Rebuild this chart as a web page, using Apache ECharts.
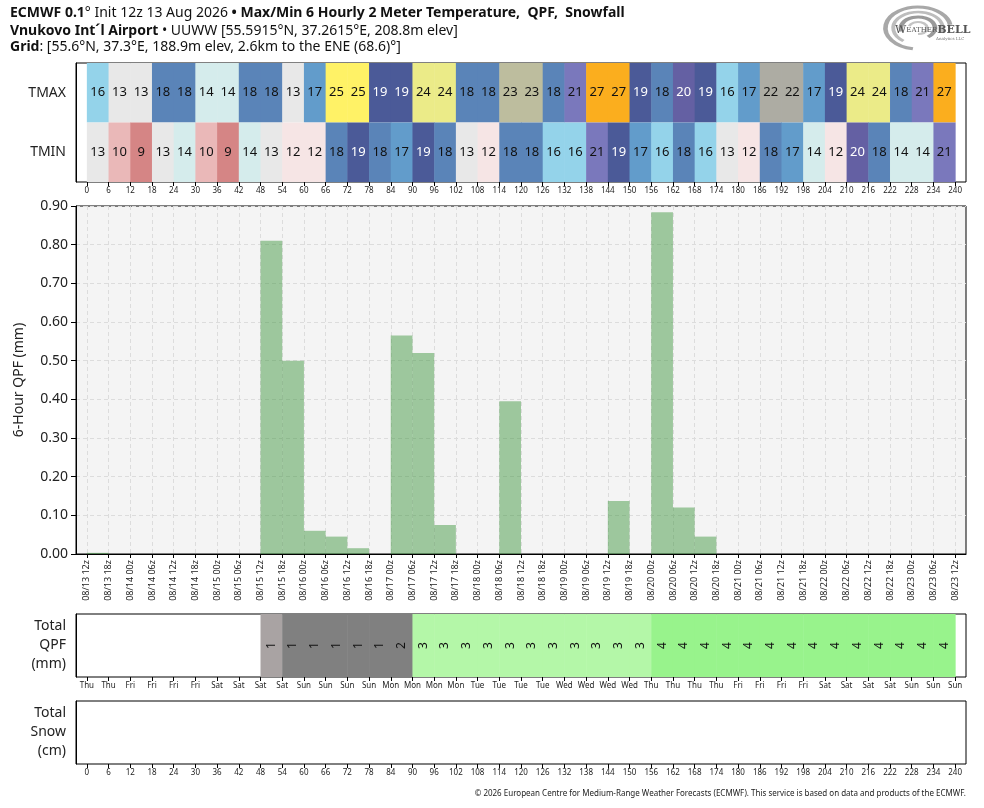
<!DOCTYPE html>
<html>
<head>
<meta charset="utf-8">
<script src="https://cdn.jsdelivr.net/npm/echarts@6/dist/echarts.min.js"></script>
<style>
html, body { margin: 0; padding: 0; background: #fff; }
#main { width: 984px; height: 808px; }
</style>
</head>
<body>
<div id="main"></div>
<script>
// forecast hours, one per 6h step
var hourTicks = [0, 6, 12, 18, 24, 30, 36, 42, 48, 54, 60, 66, 72, 78, 84, 90, 96, 102, 108, 114, 120,
  126, 132, 138, 144, 150, 156, 162, 168, 174, 180, 186, 192, 198, 204, 210, 216, 222, 228, 234, 240];

var timeLabels = ['08/13 12z', '08/13 18z', '08/14 00z', '08/14 06z', '08/14 12z', '08/14 18z',
  '08/15 00z', '08/15 06z', '08/15 12z', '08/15 18z', '08/16 00z', '08/16 06z', '08/16 12z', '08/16 18z',
  '08/17 00z', '08/17 06z', '08/17 12z', '08/17 18z', '08/18 00z', '08/18 06z', '08/18 12z', '08/18 18z',
  '08/19 00z', '08/19 06z', '08/19 12z', '08/19 18z', '08/20 00z', '08/20 06z', '08/20 12z', '08/20 18z',
  '08/21 00z', '08/21 06z', '08/21 12z', '08/21 18z', '08/22 00z', '08/22 06z', '08/22 12z', '08/22 18z',
  '08/23 00z', '08/23 06z', '08/23 12z'];

var dayLabels = ['Thu', 'Thu', 'Fri', 'Fri', 'Fri', 'Fri', 'Sat', 'Sat', 'Sat', 'Sat', 'Sun', 'Sun', 'Sun', 'Sun',
  'Mon', 'Mon', 'Mon', 'Mon', 'Tue', 'Tue', 'Tue', 'Tue', 'Wed', 'Wed', 'Wed', 'Wed', 'Thu', 'Thu', 'Thu', 'Thu',
  'Fri', 'Fri', 'Fri', 'Fri', 'Sat', 'Sat', 'Sat', 'Sat', 'Sun', 'Sun', 'Sun'];

var tmax = [16, 13, 13, 18, 18, 14, 14, 18, 18, 13, 17, 25, 25, 19, 19, 24, 24, 18, 18, 23,
  23, 18, 21, 27, 27, 19, 18, 20, 19, 16, 17, 22, 22, 17, 19, 24, 24, 18, 21, 27];
var tmin = [13, 10, 9, 13, 14, 10, 9, 14, 13, 12, 12, 18, 19, 18, 17, 19, 18, 13, 12, 18,
  18, 16, 16, 21, 19, 17, 16, 18, 16, 13, 12, 18, 17, 14, 12, 20, 18, 14, 14, 21];

// 6-hour QPF (mm)
var qpf = [0.003, 0, 0, 0, 0, 0, 0, 0, 0.81, 0.50, 0.06, 0.045, 0.015, 0, 0.565, 0.52, 0.075, 0, 0, 0.395,
  0, 0, 0, 0, 0.137, 0, 0.884, 0.12, 0.045, 0, 0, 0, 0, 0, 0, 0, 0, 0, 0, 0];

var FONT = '"Noto Sans", sans-serif';

var tempColors = {
  9: '#d58585', 10: '#eab8b8', 11: '#f0cfcf', 12: '#f6e5e5', 13: '#e8e8e8', 14: '#d5ecec',
  15: '#bde5ec', 16: '#94d3ea', 17: '#629ccb', 18: '#5a84b8', 19: '#4b5a98', 20: '#6460a3',
  21: '#7a78bc', 22: '#adaca3', 23: '#bdbd9e', 24: '#ebeb88', 25: '#fff266', 26: '#fdd045', 27: '#fbae1e'
};

function textOn(hex) {
  var r = parseInt(hex.substr(1, 2), 16), g = parseInt(hex.substr(3, 2), 16), b = parseInt(hex.substr(5, 2), 16);
  var lum = (0.299 * r + 0.587 * g + 0.114 * b) / 255;
  return lum < 0.45 ? '#fff' : '#111';
}

function qpfColor(v) {
  if (v < 1) return '#a9a3a3';
  if (v < 2.2) return '#808080';
  if (v < 3.8) return '#b4f7a8';
  return '#98f38c';
}

var tempData = [];
tmax.forEach(function (v, i) { tempData.push([hourTicks[i], 1, v]); });
tmin.forEach(function (v, i) { tempData.push([hourTicks[i], 0, v]); });

var qpfData = qpf.map(function (v, i) { return [hourTicks[i], v]; });

var totalData = [];
var run = 0;
qpf.forEach(function (v, i) { run += v; totalData.push([hourTicks[i], 0, run]); });

function renderTemp(params, api) {
  var x0 = api.value(0), row = api.value(1), v = api.value(2);
  var p0 = api.coord([x0, row]);
  var p1 = api.coord([x0 + 6, row]);
  var h = api.size([0, 1])[1];
  var fill = tempColors[v] || '#ccc';
  return {
    type: 'group',
    children: [
      { type: 'rect', shape: { x: p0[0], y: p0[1] - h / 2, width: p1[0] - p0[0] + 0.5, height: h }, style: { fill: fill } },
      { type: 'text', style: { text: String(v), x: (p0[0] + p1[0]) / 2, y: p0[1], align: 'center', verticalAlign: 'middle', fill: textOn(fill), font: '13px ' + FONT } }
    ]
  };
}

function renderBar(params, api) {
  var x0 = api.value(0), v = api.value(1);
  if (!v) return null;
  var p0 = api.coord([x0, 0]);
  var p1 = api.coord([x0 + 6, v]);
  return {
    type: 'rect',
    shape: { x: p0[0], y: p1[1], width: p1[0] - p0[0], height: p0[1] - p1[1] },
    style: { fill: 'rgba(50,145,50,0.45)' }
  };
}

function renderTotal(params, api) {
  var x0 = api.value(0), v = api.value(2);
  if (Math.round(v) < 1) return null;
  var p0 = api.coord([x0, 0]);
  var p1 = api.coord([x0 + 6, 0]);
  var h = api.size([0, 1])[1];
  return {
    type: 'group',
    children: [
      { type: 'rect', shape: { x: p0[0], y: p0[1] - h / 2, width: p1[0] - p0[0] + 0.5, height: h }, style: { fill: qpfColor(v) } },
      { type: 'text', x: (p0[0] + p1[0]) / 2, y: p0[1], rotation: Math.PI / 2,
        style: { text: String(Math.round(v)), x: 0, y: 0, align: 'center', verticalAlign: 'middle', fill: '#111', font: '12px ' + FONT } }
    ]
  };
}

function hourAxis(gridIndex, labelOpts) {
  return {
    type: 'value', gridIndex: gridIndex, min: -3, max: 243,
    axisLine: { onZero: false, lineStyle: { color: '#000', width: 1 } },
    axisTick: { show: true, length: 4, customValues: hourTicks, lineStyle: { color: '#000' } },
    axisLabel: Object.assign({ customValues: hourTicks, color: '#222', fontFamily: FONT, fontSize: 8, margin: 5 }, labelOpts),
    splitLine: { show: false }
  };
}

function rowAxis(gridIndex, cats, fontSize) {
  return {
    type: 'category', gridIndex: gridIndex, data: cats,
    axisLine: { onZero: false, lineStyle: { color: '#000' } },
    axisTick: { alignWithLabel: true, length: 5, lineStyle: { color: '#000' } },
    axisLabel: { color: '#222', fontSize: fontSize, lineHeight: 19, align: 'right', fontFamily: FONT, margin: 10 }
  };
}

var mainX = hourAxis(1, {
  fontSize: 9, rotate: 90, margin: 6,
  formatter: function (v) { return timeLabels[v / 6]; }
});
mainX.splitLine = { show: true, lineStyle: { color: '#dcdcdc', type: [4, 3] } };

var myChart = echarts.init(document.getElementById('main'));
var option = {
  animation: false,
  backgroundColor: '#fff',
  textStyle: { fontFamily: FONT },
  grid: [
    { left: 76, top: 63, width: 890, height: 119, show: true, backgroundColor: '#fff', borderColor: '#000', borderWidth: 1 },
    { left: 76, top: 206, width: 890, height: 348, show: true, backgroundColor: '#f4f4f4', borderColor: '#000', borderWidth: 1 },
    { left: 76, top: 614, width: 890, height: 63, show: true, backgroundColor: '#fff', borderColor: '#000', borderWidth: 1 },
    { left: 76, top: 701, width: 890, height: 63, show: true, backgroundColor: '#fff', borderColor: '#000', borderWidth: 1 }
  ],
  xAxis: [
    hourAxis(0, {}),
    mainX,
    hourAxis(2, { formatter: function (v) { return dayLabels[v / 6]; } }),
    hourAxis(3, {})
  ],
  yAxis: [
    rowAxis(0, ['TMIN', 'TMAX'], 14),
    {
      type: 'value', gridIndex: 1, min: 0, max: 0.9, interval: 0.1,
      name: '6-Hour QPF (mm)', nameLocation: 'middle', nameGap: 50,
      nameTextStyle: { color: '#222', fontSize: 14, fontFamily: FONT },
      axisLine: { show: true, onZero: false, lineStyle: { color: '#000' } },
      axisTick: { show: true, length: 5, lineStyle: { color: '#000' } },
      axisLabel: { color: '#222', fontSize: 14, fontFamily: FONT, margin: 8, formatter: function (v) { return v.toFixed(2); } },
      splitLine: { show: true, lineStyle: { color: '#dcdcdc', type: [4, 3] } }
    },
    rowAxis(2, ['Total\nQPF\n(mm)'], 14),
    rowAxis(3, ['Total\nSnow\n(cm)'], 14)
  ],
  series: [
    { type: 'custom', xAxisIndex: 0, yAxisIndex: 0, renderItem: renderTemp, data: tempData, encode: { x: 0, y: 1 }, clip: true },
    { type: 'custom', xAxisIndex: 1, yAxisIndex: 1, renderItem: renderBar, data: qpfData, encode: { x: 0, y: 1 }, clip: true },
    { type: 'custom', xAxisIndex: 2, yAxisIndex: 2, renderItem: renderTotal, data: totalData, encode: { x: 0, y: 1 }, clip: true }
  ],
  graphic: [
    {
      type: 'text', left: 10, top: 6,
      style: {
        text: '{b|ECMWF 0.1}{n|° Init 12z 13 Aug 2026 }{b|• Max/Min 6 Hourly 2 Meter Temperature,  QPF,  Snowfall}',
        rich: {
          b: { fontFamily: FONT, fontSize: 14, fontWeight: 'bold', fill: '#111' },
          n: { fontFamily: FONT, fontSize: 14, fill: '#111' }
        }
      }
    },
    {
      type: 'text', left: 10, top: 24,
      style: {
        text: '{b|Vnukovo Int\u00b4l Airport }{n|• UUWW [55.5915°N, 37.2615°E, 208.8m elev]}',
        rich: {
          b: { fontFamily: FONT, fontSize: 14, fontWeight: 'bold', fill: '#111' },
          n: { fontFamily: FONT, fontSize: 14, fill: '#111' }
        }
      }
    },
    {
      type: 'text', left: 10, top: 40,
      style: {
        text: '{b|Grid}{n|: [55.6°N, 37.3°E, 188.9m elev, 2.6km to the ENE (68.6)°]}',
        rich: {
          b: { fontFamily: FONT, fontSize: 14, fontWeight: 'bold', fill: '#111' },
          n: { fontFamily: FONT, fontSize: 14, fill: '#111' }
        }
      }
    },
    {
      type: 'group', x: 918, y: 28, scaleX: 1.55, scaleY: 1,
      children: [
        { type: 'arc', shape: { cx: 0, cy: 0, r: 21, startAngle: Math.PI * 0.55, endAngle: Math.PI * 1.95 }, style: { stroke: '#a8a8a8', lineWidth: 3, fill: null } },
        { type: 'arc', shape: { cx: 0, cy: 0, r: 16, startAngle: Math.PI * 0.7, endAngle: Math.PI * 2.1 }, style: { stroke: '#bdbdbd', lineWidth: 2.5, fill: null } },
        { type: 'arc', shape: { cx: 0, cy: 0, r: 11, startAngle: Math.PI * 0.9, endAngle: Math.PI * 2.3 }, style: { stroke: '#9a9a9a', lineWidth: 3, fill: null } },
        { type: 'arc', shape: { cx: 0, cy: 0, r: 6, startAngle: Math.PI * 1.1, endAngle: Math.PI * 2.5 }, style: { stroke: '#c4c4c4', lineWidth: 2, fill: null } }
      ]
    },
    {
      type: 'text', x: 895, y: 30,
      style: {
        text: '{a|W}{b|EATHER}{c|BELL}', verticalAlign: 'middle',
        rich: {
          a: { fontFamily: 'DejaVu Serif', fontSize: 11, fill: '#555' },
          b: { fontFamily: 'DejaVu Serif', fontSize: 7, fill: '#555' },
          c: { fontFamily: 'DejaVu Serif', fontSize: 11, fontWeight: 'bold', fill: '#555' }
        }
      }
    },
    {
      type: 'text', x: 936, y: 37,
      style: { text: 'Analytics LLC', fontFamily: 'DejaVu Serif', fontSize: 4, fill: '#777' }
    },
    {
      type: 'text', right: 18, top: 790,
      style: {
        text: '© 2026 European Centre for Medium-Range Weather Forecasts (ECMWF). This service is based on data and products of the ECMWF.',
        fontFamily: FONT, fontSize: 8, fill: '#222'
      }
    }
  ]
};

myChart.setOption(option);
</script>
</body>
</html>
